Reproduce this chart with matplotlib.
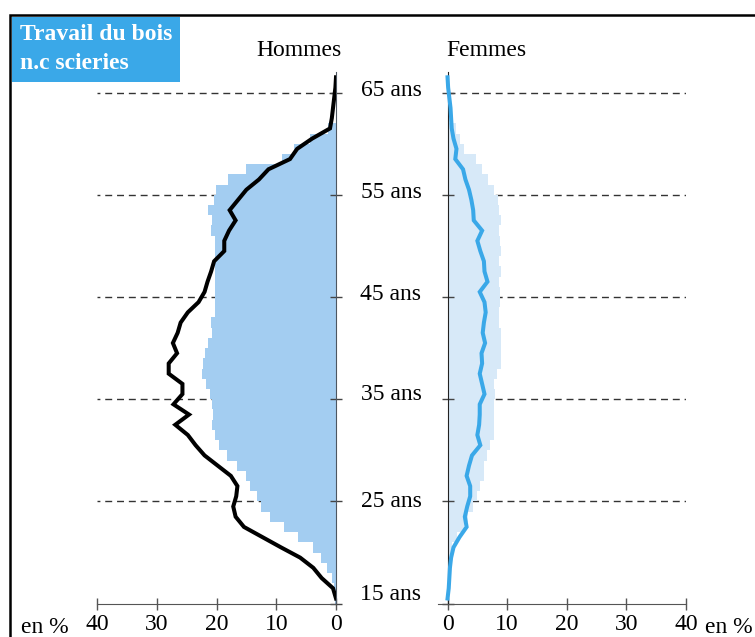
import matplotlib.pyplot as plt
from matplotlib.patches import Rectangle

plt.rcParams["font.family"] = ["Liberation Serif", "DejaVu Serif"]

# ages (bar = age a .. a+1, line point at a + 0.5)
bar_ages = list(range(15, 62))
line_ages = list(range(15, 67))

hommes_bars = [
    0.1, 0.3, 0.7, 1.5, 2.5, 3.8, 6.3, 8.7, 11.0, 12.5,
    13.2, 14.4, 15.1, 16.5, 18.2, 19.5, 20.2, 20.7, 20.6, 20.8,
    21.1, 21.8, 22.5, 22.2, 22.0, 21.5, 20.8, 21.0, 20.3, 20.3,
    20.3, 20.3, 20.3, 20.3, 20.3, 20.3, 21.0, 20.8, 21.4, 20.4,
    20.1, 18.0, 15.1, 9.1, 7.0, 4.4, 1.3,
]
hommes_line = [
    0.0, 0.5, 2.4, 3.8, 6.0, 9.2, 12.3, 15.4, 16.8, 17.2,
    16.7, 16.5, 17.6, 19.8, 22.0, 23.5, 24.8, 26.9, 24.6, 27.2,
    25.7, 25.7, 28.0, 28.0, 26.6, 27.3, 26.5, 26.0, 24.8, 23.0,
    22.0, 21.5, 20.9, 20.4, 18.7, 18.7, 17.9, 16.8, 17.8, 16.4,
    15.0, 12.9, 11.3, 7.7, 6.5, 4.0, 1.0, 0.7, 0.5, 0.3,
    0.1, 0.0,
]
femmes_bars = [
    0.0, 0.1, 0.2, 0.3, 0.4, 0.8, 1.6, 2.8, 3.4, 4.3,
    5.0, 5.5, 6.1, 6.1, 6.7, 7.2, 7.8, 7.8, 7.8, 7.8,
    7.9, 7.8, 8.3, 8.9, 8.9, 8.9, 8.9, 8.6, 8.6, 8.8,
    8.8, 8.6, 8.9, 8.6, 8.9, 8.8, 8.6, 8.9, 8.7, 8.5,
    7.8, 6.8, 5.8, 4.8, 2.7, 2.1, 1.5,
]
femmes_line = [
    0.0, 0.2, 0.3, 0.4, 0.6, 1.0, 2.0, 3.2, 2.9, 3.3,
    3.8, 3.8, 3.2, 3.6, 4.1, 5.5, 5.0, 5.3, 5.4, 5.4,
    6.2, 5.8, 5.4, 5.8, 5.7, 6.3, 5.9, 6.1, 6.4, 6.2,
    5.4, 6.7, 6.2, 6.1, 5.5, 5.0, 5.8, 4.4, 4.3, 4.0,
    3.6, 3.0, 2.6, 1.3, 1.5, 1.0, 0.7, 0.6, 0.5, 0.3,
    0.1, 0.0,
]

age_marks = [15, 25, 35, 45, 55, 65]
x_ticks = [0, 10, 20, 30, 40]

W, H = 755, 637
FS = 17


def fx(px):
    return px / W


def fy(py):
    return 1 - py / H


def style_axis(ax):
    ax.set_ylim(15, 67)
    ax.set_xticks(x_ticks)
    ax.set_yticks(age_marks)
    ax.tick_params(axis="x", direction="inout", length=9, width=1, color="#555555",
                   labelsize=FS, pad=3)
    ax.tick_params(axis="y", direction="inout", length=9, width=1, color="#444444",
                   labelleft=False, labelright=False)
    ax.spines["top"].set_visible(False)
    ax.spines["bottom"].set_color("#555555")
    ax.patch.set_alpha(0)


fig = plt.figure(figsize=(W / 100, H / 100), dpi=100, facecolor="white")

bottom = fy(603.6)
height = (603.6 - 72.2) / H

# Hommes
ax1 = fig.add_axes([fx(97), bottom, fx(336) - fx(97), height])
ax1.set_xlim(40, 0)
ax1.hlines([25, 35, 45, 55, 65], 0, 40, colors="#333333", lw=1.0,
           linestyles=(0, (5, 3.5)), zorder=0)
ax1.barh(bar_ages, hommes_bars, height=1, align="edge", color="#a3cdf1", zorder=1)
ax1.plot(hommes_line, [a + 0.5 for a in line_ages], color="black", lw=2.9,
         solid_joinstyle="miter", zorder=3)
style_axis(ax1)
ax1.yaxis.tick_right()
ax1.tick_params(axis="y", labelright=False)
ax1.spines["left"].set_visible(False)
ax1.spines["right"].set_color("#4d5660")

# Femmes
ax2 = fig.add_axes([fx(438), bottom, fx(686) - fx(438), height])
ax2.set_xlim(-1.6, 40)
ax2.hlines([25, 35, 45, 55, 65], 0, 40, colors="#333333", lw=1.0,
           linestyles=(0, (5, 3.5)), zorder=0)
ax2.barh(bar_ages, femmes_bars, height=1, align="edge", color="#d7e9f8", zorder=1)
ax2.plot(femmes_line, [a + 0.5 for a in line_ages], color="#3aa8e8", lw=2.9,
         solid_joinstyle="miter", zorder=3)
style_axis(ax2)
ax2.spines["left"].set_position(("data", 0))
ax2.spines["left"].set_color("#222222")
ax2.spines["right"].set_visible(False)

# age labels between the panels
for age, py in zip(age_marks, [600, 507, 400, 300, 198, 96]):
    fig.text(fx(391), fy(py), f"{age} ans", fontsize=FS, ha="center", va="baseline")

fig.text(fx(299), fy(56), "Hommes", fontsize=FS, ha="center", va="baseline")
fig.text(fx(486), fy(56), "Femmes", fontsize=FS, ha="center", va="baseline")
fig.text(fx(45), fy(633), "en %", fontsize=FS, ha="center", va="baseline")
fig.text(fx(729), fy(633), "en %", fontsize=FS, ha="center", va="baseline")

# frame and title box
fig.patches.append(Rectangle((fx(10), -0.2), 1.2, fy(15) + 0.2, fill=False,
                             edgecolor="black", lw=1.8, transform=fig.transFigure, figure=fig))
fig.patches.append(Rectangle((fx(12), fy(82)), fx(180) - fx(12), fy(17) - fy(82),
                             facecolor="#3aa8e8", edgecolor="none",
                             transform=fig.transFigure, figure=fig))
fig.text(fx(20), fy(40), "Travail du bois", fontsize=FS, fontweight="bold",
         color="white", va="baseline")
fig.text(fx(20), fy(69), "n.c scieries", fontsize=FS, fontweight="bold",
         color="white", va="baseline")

fig.savefig("out.png", dpi=100)
